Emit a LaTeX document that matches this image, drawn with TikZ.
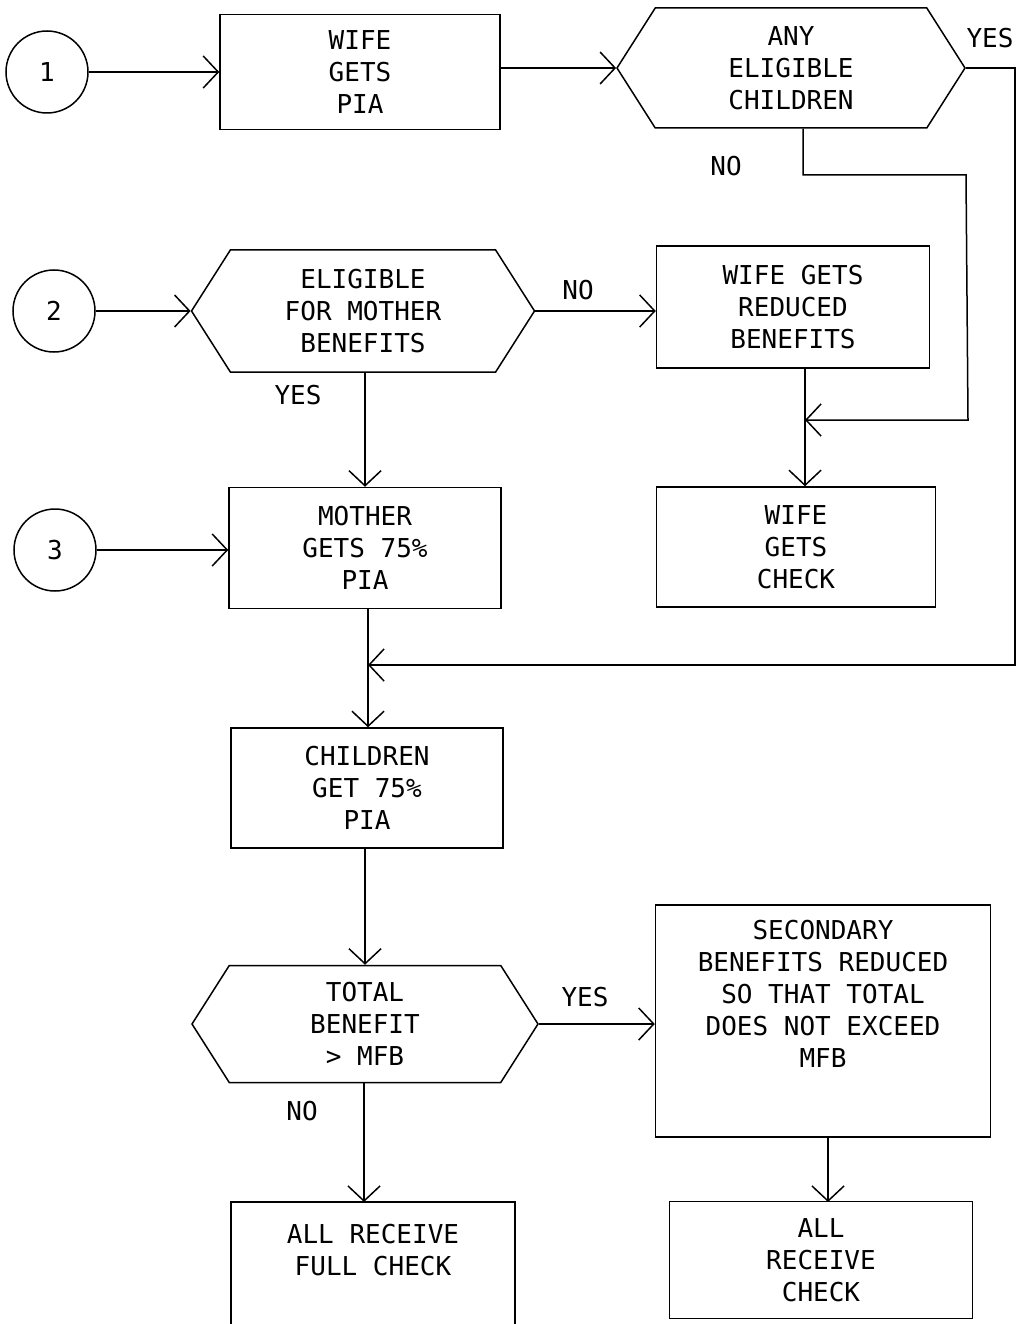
\documentclass[tikz,border=0pt]{standalone}
\usepackage{fontspec}
\setmonofont{DejaVu Sans Mono}
\usetikzlibrary{arrows.meta,shapes.symbols}

\tikzset{
  conn/.style={circle,draw,minimum size=82pt,inner sep=0pt},
  box/.style={draw,rectangle,align=center,inner sep=0pt},
  query/.style={draw,signal,signal to=west and east,signal pointer angle=115,
                align=center,inner sep=0pt},
  lbl/.style={inner sep=0pt}
}

\begin{document}
\begin{tikzpicture}[x=1pt,y=-1pt,line width=1.5pt,
    >={Straight Barb[length=15pt,width=32pt]},
    font=\ttfamily\fontsize{26}{32}\selectfont]
    \useasboundingbox (0,0) rectangle (1018,1324);
    \clip (0,0) rectangle (1018,1324);

    % Entry points
    \node[conn] (c1) at (47,72) {1};
    \node[conn] (c2) at (54,311) {2};
    \node[conn] (c3) at (55,550) {3};

    % Top row
    \node[box, minimum width=280pt, minimum height=115pt] (pia) at (360,72) {WIFE\\GETS\\PIA};
    \node[query, minimum width=348pt, minimum height=120pt] (any) at (791,68) {ANY\\ELIGIBLE\\CHILDREN};

    % Mother branch
    \node[query, minimum width=343pt, minimum height=122pt] (elig) at (363,311) {ELIGIBLE\\FOR MOTHER\\BENEFITS};
    \node[box, minimum width=273pt, minimum height=122pt] (red) at (793,307) {WIFE GETS\\REDUCED\\BENEFITS};
    \node[box, minimum width=279pt, minimum height=120pt] (wchk) at (796,547) {WIFE\\GETS\\CHECK};
    \node[box, minimum width=272pt, minimum height=121pt] (moth) at (365,548) {MOTHER\\GETS 75\%\\PIA};
    \node[box, minimum width=272pt, minimum height=120pt] (chil) at (367,788) {CHILDREN\\GET 75\%\\PIA};

    % Total check
    \node[query, minimum width=346pt, minimum height=117pt] (tot) at (365,1024) {TOTAL\\BENEFIT\\> MFB};
    \node[box, minimum width=335pt, minimum height=232pt, text depth=54pt] (sec) at (823,1021) {SECONDARY\\BENEFITS REDUCED\\SO THAT TOTAL\\DOES NOT EXCEED\\MFB};
    \node[box, minimum width=284pt, minimum height=140pt, text depth=44pt] (full) at (373,1272) {ALL RECEIVE\\FULL CHECK};
    \node[box, minimum width=303pt, minimum height=117pt] (allc) at (821,1260) {ALL\\RECEIVE\\CHECK};

    % Junctions
    \coordinate (j1) at (805,420);
    \coordinate (j2) at (368,665);

    % Labels
    \node[lbl] (y1) at (990,38) {YES};
    \node[lbl] (n1) at (726,166) {NO};
    \node[lbl] (n2) at (578,290) {NO};
    \node[lbl] (y2) at (298,395) {YES};
    \node[lbl] (y3) at (585,997) {YES};
    \node[lbl] (n3) at (302,1111) {NO};

    % Edges
    \draw[->] (c1) -- (c1 -| pia.west);
    \draw[->] (pia.east |- any.west) -- (any.west);
    \draw[->] (c2) -- (elig.west);
    \draw[->] (c3) -- (c3 -| moth.west);
    \draw[->] (elig.east) -- (elig.east -| red.west);
    \draw[->] (elig.south -| moth) -- (moth.north);
    \draw[->] (red.south -| j1) -- (j1 |- wchk.north);
    \draw[->] (any.south -| 803,0) -- (803,175) -- (966,175) -- (968,420) -- (j1);
    \draw[->] (any.east) -- (1015,68) -- (1015,665) -- (j2);
    \draw[->] (moth.south -| j2) -- (j2 |- chil.north);
    \draw[->] (chil.south -| tot) -- (tot.north);
    \draw[->] (tot.east) -- (tot.east -| sec.west);
    \draw[->] (tot.south -| 364,0) -- (364,1202);
    \draw[->] (sec.south -| 828,0) -- (828,1202);
\end{tikzpicture}
\end{document}
